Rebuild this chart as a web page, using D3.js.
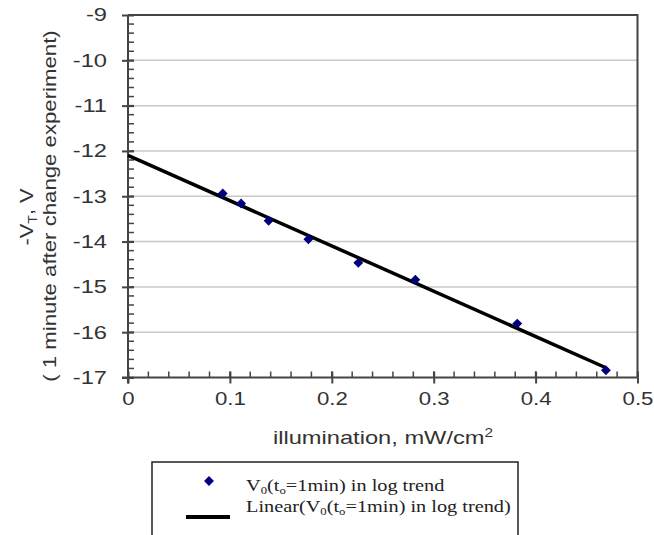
<!DOCTYPE html>
<html>
<head>
<meta charset="utf-8">
<script src="https://cdn.jsdelivr.net/npm/d3@7/dist/d3.min.js"></script>
<style>
html,body{margin:0;padding:0;background:#fff;}
svg{display:block;}
</style>
</head>
<body>
<svg id="chart" width="654" height="535"></svg>
<script>
// Data
const illumination = [0.093, 0.111, 0.138, 0.177, 0.226, 0.282, 0.382, 0.469];
const voltage = [-12.94, -13.16, -13.54, -13.95, -14.47, -14.84, -15.81, -16.84];
const xTicks = [0, 0.1, 0.2, 0.3, 0.4, 0.5];
const yTicks = [-9, -10, -11, -12, -13, -14, -15, -16, -17];

const svg = d3.select("#chart");
const L = 128, R = 637.5, T = 15, B = 377.5;
const x = d3.scaleLinear().domain([0, 0.5]).range([L, R]);
const y = d3.scaleLinear().domain([-17, -9]).range([B, T]);

// gridlines
svg.append("g").selectAll("line").data(yTicks.slice(1, -1)).join("line")
  .attr("x1", L).attr("x2", R).attr("y1", d => y(d)).attr("y2", d => y(d))
  .attr("stroke", "#c8c8c8").attr("stroke-width", 1.5);

// frame (top & right)
svg.append("path")
  .attr("d", `M${L},${T}H${R}V${B}`)
  .attr("fill", "none").attr("stroke", "#444").attr("stroke-width", 2);

// minor ticks
const yMinor = d3.range(-17, -9 + 1e-9, 0.2).map(v => +v.toFixed(2));
svg.append("g").selectAll("line").data(yMinor).join("line")
  .attr("x1", L).attr("x2", L + 6).attr("y1", d => y(d)).attr("y2", d => y(d))
  .attr("stroke", "#444").attr("stroke-width", 1.5);
const xMinor = d3.range(0, 0.5 + 1e-9, 0.02).map(v => +v.toFixed(2));
svg.append("g").selectAll("line").data(xMinor).join("line")
  .attr("x1", d => x(d)).attr("x2", d => x(d)).attr("y1", B).attr("y2", B - 6)
  .attr("stroke", "#444").attr("stroke-width", 1.5);

// axes
const font = "'Liberation Sans', Arial, sans-serif";
const yAxis = svg.append("g").attr("transform", `translate(${L},0)`)
  .call(d3.axisLeft(y).tickValues(yTicks).tickSize(6).tickPadding(15).tickFormat(d => String(d)));
yAxis.selectAll(".tick line").clone().attr("x2", 6);
const xAxis = svg.append("g").attr("transform", `translate(0,${B})`)
  .call(d3.axisBottom(x).tickValues(xTicks).tickSize(6).tickPadding(8).tickFormat(d => String(d)));
xAxis.selectAll(".tick line").clone().attr("y2", -6);
[yAxis, xAxis].forEach(a => {
  a.select(".domain").attr("stroke", "#444").attr("stroke-width", 2);
  a.selectAll(".tick line").attr("stroke", "#444").attr("stroke-width", 2);
  a.selectAll(".tick text").attr("fill", "#333").style("font-family", font)
    .style("font-size", "18.5px");
});
// stretch tick labels horizontally like the reference
yAxis.selectAll(".tick text").each(function () {
  const t = d3.select(this); const tx = +t.attr("x");
  t.attr("x", 0).attr("transform", `translate(${tx},0) scale(1.28,1)`);
});
xAxis.selectAll(".tick text").attr("transform", "scale(1.2,1)");
yAxis.select(".domain").attr("d", `M0,${T}V${B + 6}`);
xAxis.select(".domain").attr("d", `M${L - 6},0H${R}`);

// trend line (least squares fit)
const mx = d3.mean(illumination), my = d3.mean(voltage);
const slope = d3.sum(illumination.map((v, i) => (v - mx) * (voltage[i] - my))) /
              d3.sum(illumination.map(v => (v - mx) * (v - mx)));
const icpt = my - slope * mx;
const xEnd = d3.max(illumination);
svg.append("line")
  .attr("x1", x(0)).attr("y1", y(icpt))
  .attr("x2", x(xEnd)).attr("y2", y(icpt + slope * xEnd))
  .attr("stroke", "#000").attr("stroke-width", 3.5);

// markers
const diamond = d3.symbol().type(d3.symbolDiamond2).size(62);
svg.append("g").selectAll("path").data(illumination).join("path")
  .attr("d", diamond)
  .attr("transform", (d, i) => `translate(${x(d)},${y(voltage[i])})`)
  .attr("fill", "#000080");

// axis titles
const xt = svg.append("g").attr("transform", "translate(383,444) scale(1.28,1)")
  .append("text").attr("text-anchor", "middle")
  .attr("fill", "#333").style("font-family", font).style("font-size", "18.5px");
xt.append("tspan").text("illumination, mW/cm");
xt.append("tspan").attr("dy", -7).style("font-size", "12px").text("2");

const t1 = svg.append("g").attr("transform", "translate(33,217) rotate(-90) scale(1.18,1)")
  .append("text").attr("text-anchor", "middle")
  .attr("fill", "#333").style("font-family", font).style("font-size", "18.5px");
t1.append("tspan").text("-V");
t1.append("tspan").attr("dy", 4).style("font-size", "12px").text("T");
t1.append("tspan").attr("dy", -4).text(", V");
svg.append("g").attr("transform", "translate(56,206) rotate(-90) scale(1.2,1)")
  .append("text").attr("text-anchor", "middle")
  .attr("fill", "#333").style("font-family", font).style("font-size", "18.5px")
  .text("( 1 minute after change experiment)");

// legend
const serif = "'Liberation Serif', 'Times New Roman', serif";
svg.append("rect").attr("x", 152).attr("y", 462).attr("width", 366).attr("height", 90)
  .attr("fill", "#fff").attr("stroke", "#222").attr("stroke-width", 1.5);
svg.append("path").attr("d", diamond).attr("transform", "translate(209,481)").attr("fill", "#000080");
svg.append("line").attr("x1", 186).attr("x2", 230).attr("y1", 517).attr("y2", 517)
  .attr("stroke", "#000").attr("stroke-width", 4);
function legendText(yPos, prefix) {
  const t = svg.append("g").attr("transform", `translate(246,${yPos}) scale(1.16,1)`)
    .append("text").attr("fill", "#222")
    .style("font-family", serif).style("font-size", "17.5px");
  t.append("tspan").text(prefix + "V");
  t.append("tspan").attr("dy", 3).style("font-size", "11px").text("0");
  t.append("tspan").attr("dy", -3).text("(t");
  t.append("tspan").attr("dy", 3).style("font-size", "11px").text("o");
  t.append("tspan").attr("dy", -3).text("=1min) in log trend" + (prefix ? ")" : ""));
}
legendText(491, "");
legendText(512, "Linear(");
</script>
</body>
</html>
